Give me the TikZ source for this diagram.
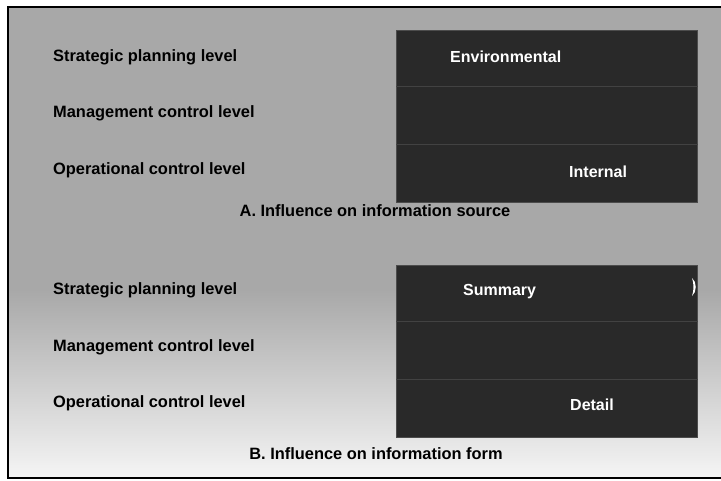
\documentclass[tikz,border=0pt]{standalone}
\usepackage{fontspec}
\setmainfont{Liberation Sans}
\begin{document}
\begin{tikzpicture}[x=1pt,y=-1pt,
  levellabel/.style={font=\bfseries\fontsize{16.4}{18}\selectfont, inner sep=0pt, anchor=west, text=black},
  caption/.style={font=\bfseries\fontsize{16.4}{18}\selectfont, inner sep=0pt, text=black},
  inlabel/.style={font=\bfseries\fontsize{16}{18}\selectfont, inner sep=0pt, anchor=west, text=white},
  darkbox/.style={rectangle, fill=black!84, draw=black!70, line width=0.8pt,
    minimum width=301pt, minimum height=172pt, inner sep=0pt},
  rowline/.style={draw=black!74, line width=0.6pt}]
\useasboundingbox (0,0) rectangle (721,480);
\fill[white] (0,0) rectangle (721,480);
% page tone: grey, fading out towards the foot
\fill[black!34] (8,7) rectangle (721,290);
\shade[top color=black!34, bottom color=black!4] (8,290) rectangle (721,478);
% frame, open on the right
\draw[line width=1.4pt] (721,7) -- (8,7) -- (8,478) -- (721,478);

% ---- A. information source ----
\node[darkbox] (boxA) at (547,116) {};
\draw[rowline] ([yshift=-57pt]boxA.north west) -- ([yshift=-57pt]boxA.north east);
\draw[rowline] ([yshift=-115pt]boxA.north west) -- ([yshift=-115pt]boxA.north east);
\node[levellabel] (a1) at (53,57) {Strategic planning level};
\node[levellabel] (a2) at (53,113) {Management control level};
\node[levellabel] (a3) at (53,170) {Operational control level};
\node[inlabel] (env) at (450,57) {Environmental};
\node[inlabel] (int) at (569,172) {Internal};
\node[caption] (capA) at (375,211) {A. Influence on information source};

% ---- B. information form ----
\node[darkbox] (boxB) at (547,351) {};
\draw[rowline] ([yshift=-57pt]boxB.north west) -- ([yshift=-57pt]boxB.north east);
\draw[rowline] ([yshift=-115pt]boxB.north west) -- ([yshift=-115pt]boxB.north east);
\node[levellabel] (b1) at (53,290) {Strategic planning level};
\node[levellabel] (b2) at (53,347) {Management control level};
\node[levellabel] (b3) at (53,403) {Operational control level};
\node[inlabel] (sum) at (463,292) {Summary};
\node[inlabel] (det) at (570,405) {Detail};
\node[caption] (capB) at (376,454) {B. Influence on information form};
% small white mark at the right edge of box B
\fill[white] (692,278) .. controls (697,282) and (697,292) .. (692,296)
  .. controls (694,290) and (694,284) .. (692,278);
\end{tikzpicture}
\end{document}
